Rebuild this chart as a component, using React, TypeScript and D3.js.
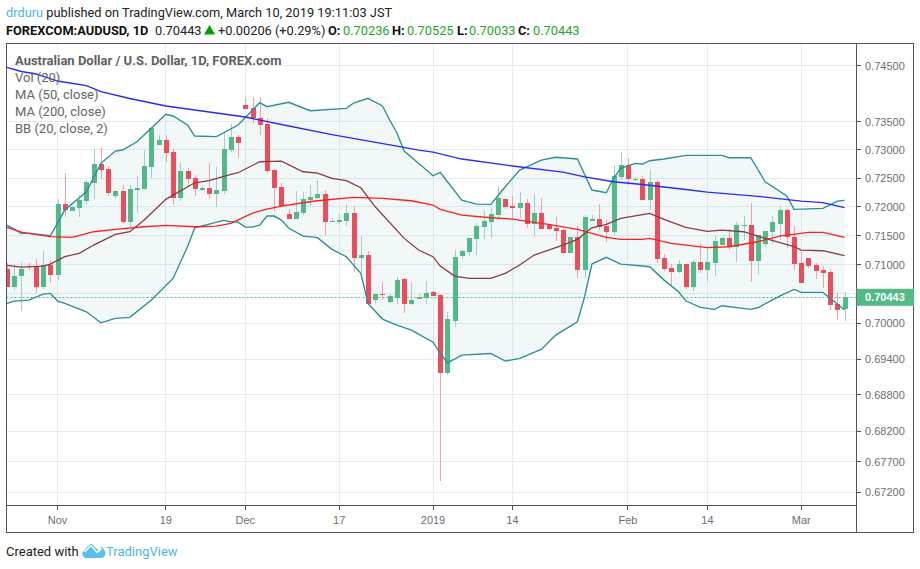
import React from "react";
import * as d3 from "d3";

const opens = [.70920,.70619,.70805,.70977,.70977,.70619,.70994,.70822,.72048,.71927,.71979,.72100,.72415,.72749,.72660,.72188,.72275,.71735,.72293,.72310,.72695,.73084,.73172,.72960,.72153,.72625,.72503,.72293,.72328,.72223,.72275,.72995,.73225,.73794,.73740,.73562,.73455,.72643,.72345,.71874,.71787,.71892,.72118,.72153,.72223,.71735,.71735,.71752,.71892,.71114,.71166,.70396,.70498,.70362,.70430,.70753,.70328,.70413,.70430,.70532,.70481,.69167,.70039,.71149,.71218,.71441,.71649,.71735,.71857,.72135,.72013,.71979,.72065,.71700,.71892,.71683,.71632,.71597,.71200,.71476,.70908,.71752,.71787,.71666,.71562,.72520,.72731,.72468,.72485,.72118,.72433,.71114,.70942,.70874,.71011,.70617,.71045,.70908,.71028,.71338,.71459,.71304,.71666,.71683,.71063,.71355,.71562,.71700,.71944,.71476,.71028,.71114,.70994,.70908,.70874,.70328,.70236];
const highs = [.71030,.70994,.71045,.71023,.71097,.71235,.71080,.72135,.72590,.71996,.72205,.72468,.73013,.73030,.72714,.72293,.72380,.72380,.72538,.72995,.73385,.73260,.73260,.73013,.72784,.72678,.72555,.72380,.72766,.72695,.73296,.73455,.73260,.73936,.73936,.73936,.73562,.72660,.72415,.71961,.72275,.72258,.72380,.72468,.72293,.71805,.71874,.72048,.72013,.71493,.71235,.70498,.70702,.70498,.70788,.70770,.70702,.70498,.70719,.70549,.70498,.70192,.71252,.71252,.71459,.71718,.71944,.71979,.72363,.72135,.72188,.72258,.72135,.72223,.72153,.71700,.71822,.71614,.71476,.71666,.71857,.71857,.72048,.71770,.72731,.72960,.72854,.72520,.72538,.72643,.72468,.71183,.71011,.71080,.71011,.71080,.71373,.71304,.71493,.71476,.71614,.71735,.71840,.72065,.71510,.71580,.71840,.72013,.71961,.71666,.71218,.71114,.71028,.70977,.70925,.70515,.70525];
const lows = [.70615,.70566,.70209,.70908,.70515,.70583,.70685,.70736,.71822,.71927,.71822,.72048,.72135,.72485,.72188,.72153,.71718,.71649,.71892,.72310,.72503,.73084,.72784,.72031,.72100,.72345,.72188,.72275,.72135,.71996,.72223,.72960,.72854,.73723,.73473,.73260,.72590,.71927,.71996,.71787,.71787,.71857,.72013,.72135,.71510,.71735,.71700,.71666,.70874,.70874,.70311,.70345,.70396,.70345,.70328,.70175,.70311,.70413,.70328,.70464,.67381,.69130,.69938,.71097,.71149,.71166,.71441,.71459,.71805,.71961,.71770,.71805,.71632,.71476,.71614,.71597,.71407,.71166,.71200,.70770,.70770,.71752,.71597,.71390,.71510,.72468,.72380,.72450,.72118,.71944,.71028,.70891,.70634,.70857,.70583,.70549,.70857,.70719,.70805,.71338,.71252,.71045,.71424,.70702,.70840,.71304,.71355,.71424,.71286,.70908,.70685,.70942,.70753,.70600,.70226,.70056,.70033];
const closes = [.70620,.70805,.70925,.70965,.70619,.70994,.70822,.72048,.71944,.71996,.72118,.72433,.72749,.72643,.72240,.72275,.71735,.72310,.72328,.72714,.73385,.73172,.72942,.72153,.72625,.72485,.72310,.72328,.72223,.72293,.73013,.73225,.73119,.73723,.73562,.73438,.72625,.72328,.72013,.71787,.71909,.72135,.72170,.72223,.71735,.71752,.71770,.71892,.71114,.71166,.70328,.70498,.70481,.70464,.70736,.70328,.70396,.70447,.70515,.70464,.69167,.70073,.71132,.71235,.71459,.71666,.71752,.71874,.72153,.71996,.71979,.72065,.71700,.71892,.71614,.71614,.71580,.71200,.71476,.70908,.71822,.71787,.71649,.71562,.72538,.72731,.72485,.72485,.72118,.72433,.71097,.70925,.70874,.71011,.70617,.71045,.70908,.71045,.71407,.71459,.71304,.71683,.71683,.71063,.71510,.71580,.71735,.71944,.71476,.71011,.70685,.70977,.70891,.70857,.70311,.70226,.70443];

const ma200Bars = [0,2,4,7,11,13,17,22,27,33,38,45,54,57,59,63,70,77,80,84,88,94,97,105,110,113,116];
const ma200 = [.74466,.74394,.74349,.74223,.74142,.74035,.73910,.73776,.73687,.73580,.73447,.73269,.73066,.72995,.72960,.72837,.72714,.72608,.72525,.72438,.72390,.72302,.72258,.72170,.72100,.72074,.71987];
const ma50Bars = [0,2,6,9,12,15,19,22,26,29,31,34,36,38,41,43,48,52,56,59,60,63,67,70,75,79,83,85,88,89,92,97,100,104,107,111,113,116];
const ma50 = [.71644,.71562,.71484,.71471,.71568,.71609,.71654,.71678,.71654,.71666,.71713,.71892,.71961,.72013,.72071,.72106,.72165,.72148,.72106,.72031,.71956,.71857,.71810,.71787,.71695,.71609,.71471,.71436,.71436,.71453,.71367,.71292,.71309,.71395,.71493,.71557,.71557,.71471];
const basisBars = [0,2,5,6,8,10,12,15,17,19,22,23,26,28,31,32,35,38,41,43,45,47,49,51,55,57,59,60,62,64,67,69,71,73,74,77,79,81,83,85,88,89,91,94,97,99,102,105,109,110,113,116];
const basis = [.70989,.70960,.70977,.71011,.71137,.71195,.71338,.71523,.71568,.71770,.72130,.72205,.72420,.72456,.72568,.72596,.72789,.72801,.72613,.72590,.72498,.72456,.72333,.72001,.71453,.71252,.71137,.70977,.70805,.70765,.70765,.70851,.70994,.71166,.71206,.71338,.71436,.71637,.71695,.71799,.71865,.71886,.71782,.71644,.71575,.71597,.71568,.71453,.71309,.71252,.71240,.71154];
const upperBars = [0,2,3,6,8,11,13,15,16,18,20,22,23,25,26,29,32,35,36,39,42,47,48,50,52,53,54,55,57,59,60,61,63,65,67,69,71,74,76,79,81,83,84,85,87,88,89,91,94,99,100,103,105,108,109,113,115,116];
const upper = [.71683,.71539,.71539,.71498,.71944,.72263,.72761,.72977,.72995,.73142,.73385,.73629,.73598,.73438,.73243,.73231,.73438,.73835,.73764,.73842,.73692,.73735,.73829,.73913,.73776,.73526,.73296,.72977,.72761,.72543,.72603,.72438,.72118,.72048,.72043,.72350,.72643,.72819,.72867,.72837,.72293,.72246,.72498,.72673,.72761,.72749,.72807,.72837,.72902,.72902,.72860,.72860,.72438,.72188,.71956,.71973,.72100,.72113];
const lowerBars = [0,1,3,5,6,7,8,11,13,15,17,20,23,25,26,30,31,32,33,34,35,36,37,38,39,41,43,45,47,49,50,52,54,56,59,60,61,63,67,69,71,74,76,79,80,81,83,85,88,89,91,93,94,96,98,99,103,104,107,109,110,113,114,116];
const lower = [.70340,.70379,.70396,.70498,.70510,.70379,.70340,.70197,.70010,.70085,.70102,.70396,.70765,.71309,.71637,.71765,.71740,.71735,.71649,.71649,.71683,.71840,.71840,.71770,.71632,.71493,.71465,.71264,.71137,.70851,.70340,.70073,.69972,.69887,.69683,.69499,.69335,.69465,.69493,.69364,.69409,.69561,.69802,.70027,.70452,.71011,.71127,.71011,.70977,.70965,.70736,.70537,.70384,.70272,.70238,.70299,.70238,.70265,.70464,.70578,.70527,.70527,.70425,.70226];

const priceTicks = [.745,.735,.73,.725,.72,.715,.71,.705,.70,.694,.688,.682,.677,.672];
const timeTickBars = [7,22,33,46,59,70,86,97,110];
const timeTickLabels = ["Nov","19","Dec","17","2019","14","Feb","14","Mar"];
const legendLabels = ["Vol (20)","MA (50, close)","MA (200, close)","BB (20, close, 2)"];
const lastPrice = 0.70443;

const W = 920, H = 569;
const plotL = 6.5, plotT = 43.5, plotR = 856.5, plotB = 505.5, outerR = 913.5, outerB = 532.5;
const UP = "#53b987", DOWN = "#eb4d5c", UPW = "#a3ccd1", DOWNW = "#f3a1a9", GRID = "#e4edf4", BORDER = "#50535e", AXT = "#6b6e76";
const x = d3.scaleLinear().domain([0, 116]).range([7, 844.6]);
const y = d3.scaleLog().domain([.745, .672]).range([65.6, 492.3]);
const snap = (v: number) => Math.floor(v) + 0.5;
const pathOf = (bars: number[], vals: number[]) =>
  d3.line<number>().x((_, k) => x(bars[k])).y((v) => y(v))(vals) as string;

const sans = "Roboto, 'Noto Sans', sans-serif";
const arial = "'Liberation Sans', Arial, sans-serif";

export default function App() {
  const bandPath =
    pathOf(upperBars, upper) + "L" + pathOf([...lowerBars].reverse(), [...lower].reverse()).slice(1) + "Z";
  return (
    <svg width={W} height={H} style={{ position: "absolute", left: 0, top: 0, background: "#fff" }}>
      <defs>
        <clipPath id="plot"><rect x={plotL} y={plotT} width={plotR - plotL} height={plotB - plotT} /></clipPath>
      </defs>
      <g fontFamily={sans} fontSize={12.8}>
        <text x={6} y={17} fill="#222">
          <tspan fill="#53b4e6">drduru</tspan> published on TradingView.com, March 10, 2019 19:11:03 JST
        </text>
        <text x={6} y={35} fill="#111" fontWeight={700}>FOREXCOM:AUDUSD, 1D</text>
        <text x={155} y={35} fill="#222">0.70443</text>
        <path d="M204,34.5 L209.5,25 L215,34.5Z" fill="#00a000" />
        <text x={218} y={35} fill="#222">+0.00206 (+0.29%)</text>
        <text x={328} y={35} fill="#111" fontWeight={700}>O:</text>
        <text x={343} y={35} fill="#2aa52a">0.70236</text>
        <text x={392} y={35} fill="#111" fontWeight={700}>H:</text>
        <text x={407} y={35} fill="#2aa52a">0.70525</text>
        <text x={457} y={35} fill="#111" fontWeight={700}>L:</text>
        <text x={469} y={35} fill="#2aa52a">0.70033</text>
        <text x={518} y={35} fill="#111" fontWeight={700}>C:</text>
        <text x={533} y={35} fill="#2aa52a">0.70443</text>
      </g>

      <g shapeRendering="crispEdges" stroke={GRID} strokeWidth={1}>
        {priceTicks.map((p) => <line key={p} x1={plotL} x2={plotR} y1={snap(y(p))} y2={snap(y(p))} />)}
        {timeTickBars.map((b) => <line key={b} x1={snap(x(b))} x2={snap(x(b))} y1={plotT} y2={plotB} />)}
      </g>

      <g clipPath="url(#plot)">
        <path d={bandPath} fill="#006e6e" fillOpacity={0.05} />
        <line x1={plotL} x2={plotR} y1={snap(y(lastPrice))} y2={snap(y(lastPrice))} stroke={UP} strokeDasharray="2 2" />
        <g shapeRendering="crispEdges">
          {closes.map((c, i) => {
            const up = c >= opens[i];
            const cx = Math.round(x(i));
            const top = Math.round(y(Math.max(opens[i], c)));
            const bot = Math.round(y(Math.min(opens[i], c)));
            return (
              <g key={i}>
                <rect x={cx} width={1} y={y(highs[i])} height={y(lows[i]) - y(highs[i])} fill={up ? UPW : DOWNW} />
                <rect x={cx - 2} width={5} y={top} height={Math.max(1, bot - top)} fill={up ? UP : DOWN} />
              </g>
            );
          })}
        </g>
        <path d={pathOf(upperBars, upper)} fill="none" stroke="#2b8f94" strokeWidth={1.35} />
        <path d={pathOf(lowerBars, lower)} fill="none" stroke="#2b8f94" strokeWidth={1.35} />
        <path d={pathOf(basisBars, basis)} fill="none" stroke="#8c3b3f" strokeWidth={1.3} />
        <path d={pathOf(ma50Bars, ma50)} fill="none" stroke="#ff1f1f" strokeWidth={1.3} />
        <path d={pathOf(ma200Bars, ma200)} fill="none" stroke="#2a2af5" strokeWidth={1.3} />
      </g>

      <g fontFamily={sans} fontSize={13} fill="#666">
        <text x={15} y={65} fontWeight={700} fill="#5f5f5f">Australian Dollar / U.S. Dollar, 1D, FOREX.com</text>
        {legendLabels.map((t, k) => <text key={t} x={15} y={82 + k * 17}>{t}</text>)}
      </g>

      <g shapeRendering="crispEdges" stroke={BORDER} fill="none">
        <rect x={plotL} y={plotT} width={outerR - plotL} height={outerB - plotT} />
        <line x1={plotR} x2={plotR} y1={plotT} y2={outerB} />
        <line x1={plotL} x2={plotR} y1={plotB} y2={plotB} />
        {priceTicks.map((p) => <line key={p} x1={plotR} x2={plotR + 4} y1={snap(y(p))} y2={snap(y(p))} />)}
        {timeTickBars.map((b) => <line key={b} x1={snap(x(b))} x2={snap(x(b))} y1={plotB} y2={plotB + 4} />)}
      </g>

      <g fontFamily={arial} fontSize={11} fill={AXT}>
        {priceTicks.filter((p) => p !== .705).map((p) => (
          <text key={p} x={865} y={y(p) + 4}>{p.toFixed(5)}</text>
        ))}
        {timeTickBars.map((b, k) => (
          <text key={b} x={x(b)} y={524} textAnchor="middle">{timeTickLabels[k]}</text>
        ))}
      </g>
      <rect x={plotR} y={y(lastPrice) - 8.5} width={outerR - plotR + .5} height={17} fill={UP} />
      <text x={865} y={y(lastPrice) + 4} fontFamily={arial} fontSize={11} fontWeight={700} fill="#fff">0.70443</text>

      <g fontFamily={sans} fontSize={13}>
        <text x={6} y={556} fill="#222">Created with</text>
        <text x={106} y={556} fill="#53b4e6">TradingView</text>
        <path d="M82,553 Q84,551 87,547 L91,543.5 L96,548 L99,551 L102,546.5 L105.5,552 Q105.5,558 100,558 L86,558 Q83,558 82,553Z" fill="#5ac0ea" />
        <path d="M84.5,552 L91,545.5 L97,552.5 L102,548.5" fill="none" stroke="#fff" strokeWidth={1.5} />
      </g>
    </svg>
  );
}
